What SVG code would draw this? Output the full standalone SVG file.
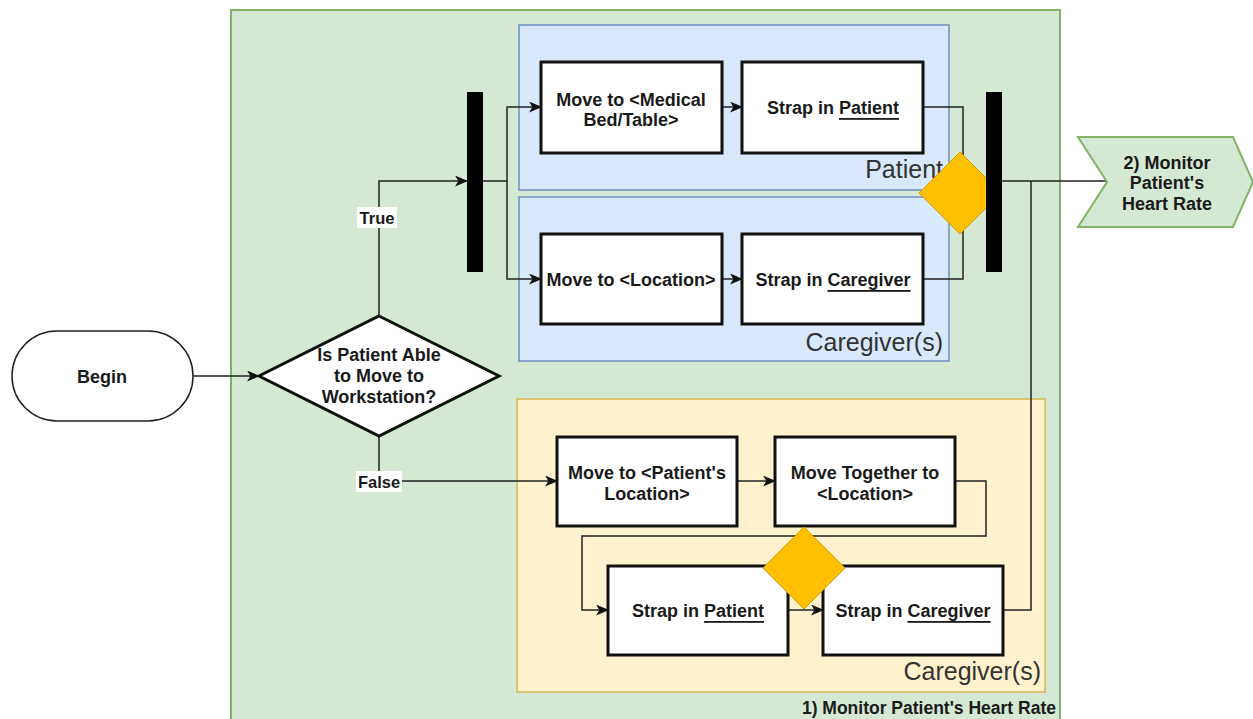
<svg xmlns="http://www.w3.org/2000/svg" width="1253" height="719" viewBox="0 0 1253 719">
<style>
.t{font-family:"Liberation Sans",Arial,sans-serif;font-size:18px;font-weight:bold;fill:#1a1a1a;text-anchor:middle;dominant-baseline:central}
.lane{font-family:"Liberation Sans",Arial,sans-serif;font-size:25px;fill:#333;text-anchor:end}
.box{fill:#fff;stroke:#111;stroke-width:3}
.c{fill:none;stroke:#222;stroke-width:1.5}
.ca{fill:none;stroke:#222;stroke-width:1.5;marker-end:url(#ah)}
.gold{fill:#ffc000;stroke:#d79b00;stroke-width:1}
.bar{fill:#000}
</style>
<defs>
<marker id="ah" viewBox="0 0 12 10" refX="11" refY="5" markerWidth="13" markerHeight="11" markerUnits="userSpaceOnUse" orient="auto">
<path d="M0,0 L12,5 L0,10 L3,5 Z" fill="#111"/>
</marker>
</defs>
<rect width="1253" height="719" fill="#fff"/>
<g id="container">
<rect x="231" y="10" width="829" height="720" fill="#d5e8d4" stroke="#82b366" stroke-width="2"/>
<text x="1056" y="714" class="t" style="text-anchor:end;dominant-baseline:auto;font-size:17.5px">1) Monitor Patient's Heart Rate</text>
</g>
<g id="lane-patient">
<rect x="519" y="25" width="430" height="165" fill="#dae8fc" stroke="#6c8ebf" stroke-width="1.5"/>
<text x="943" y="178" class="lane">Patient</text>
</g>
<g id="lane-caregiver">
<rect x="519" y="197" width="430" height="164" fill="#dae8fc" stroke="#6c8ebf" stroke-width="1.5"/>
<text x="943" y="351" class="lane">Caregiver(s)</text>
</g>
<g id="lane-caregiver2">
<rect x="517" y="399" width="528" height="293" fill="#fff2cc" stroke="#d6b656" stroke-width="1.5"/>
<text x="1041" y="680" class="lane">Caregiver(s)</text>
</g>
<g id="connectors">
<path class="ca" d="M193,376 L259,376"/>
<path class="ca" d="M379,316 L379,181 L467,181"/>
<path class="ca" d="M483,181 L507,181 L507,107 L541,107"/>
<path class="ca" d="M507,181 L507,279 L541,279"/>
<path class="ca" d="M722,107 L742,107"/>
<path class="ca" d="M722,279 L742,279"/>
<path class="c" d="M923,107 L963,107 L963,181 L986,181"/>
<path class="c" d="M923,279 L963,279 L963,181"/>
<path class="c" d="M1002,181 L1107,181"/>
<path class="ca" d="M379,436 L379,481 L557,481"/>
<path class="ca" d="M737,481 L775,481"/>
<path class="ca" d="M955,481 L986,481 L986,536 L582,536 L582,610 L608,610"/>
<path class="ca" d="M788,610 L823,610"/>
<path class="c" d="M1003,610 L1031,610 L1031,181"/>
<rect x="357" y="207" width="40" height="21" fill="#fff"/>
<text x="377" y="218" class="t" style="font-size:16.5px">True</text>
<rect x="356" y="471" width="46" height="21" fill="#fff"/>
<text x="379" y="482" class="t" style="font-size:16.5px">False</text>
</g>
<g id="begin">
<rect x="12" y="331" width="181" height="90" rx="45" fill="#fff" stroke="#222" stroke-width="1.5"/>
<text x="102" y="377" class="t">Begin</text>
</g>
<g id="decision">
<polygon points="379,316 499,376 379,436 259,376" fill="#fff" stroke="#111" stroke-width="3"/>
<text class="t"><tspan x="379" y="355">Is Patient Able</tspan><tspan x="379" y="376">to Move to</tspan><tspan x="379" y="397">Workstation?</tspan></text>
</g>
<g id="move-medical-bed">
<rect class="box" x="541" y="62" width="181" height="91"/>
<text class="t"><tspan x="631" y="100">Move to &lt;Medical</tspan><tspan x="631" y="120">Bed/Table&gt;</tspan></text>
</g>
<g id="strap-patient-1">
<rect class="box" x="742" y="62" width="181" height="91"/>
<text x="833" y="108" class="t">Strap in <tspan text-decoration="underline">Patient</tspan></text>
</g>
<g id="move-location">
<rect class="box" x="541" y="234" width="181" height="90"/>
<text x="631" y="280" class="t">Move to &lt;Location&gt;</text>
</g>
<g id="strap-caregiver-1">
<rect class="box" x="742" y="234" width="181" height="90"/>
<text x="833" y="280" class="t">Strap in <tspan text-decoration="underline">Caregiver</tspan></text>
</g>
<g id="move-patient-location">
<rect class="box" x="557" y="437" width="180" height="89"/>
<text class="t"><tspan x="647" y="473">Move to &lt;Patient's</tspan><tspan x="647" y="494">Location&gt;</tspan></text>
</g>
<g id="move-together">
<rect class="box" x="775" y="437" width="180" height="89"/>
<text class="t"><tspan x="865" y="473">Move Together to</tspan><tspan x="865" y="494">&lt;Location&gt;</tspan></text>
</g>
<g id="strap-patient-2">
<rect class="box" x="608" y="566" width="180" height="89"/>
<text x="698" y="611" class="t">Strap in <tspan text-decoration="underline">Patient</tspan></text>
</g>
<g id="strap-caregiver-2">
<rect class="box" x="823" y="566" width="180" height="89"/>
<text x="913" y="611" class="t">Strap in <tspan text-decoration="underline">Caregiver</tspan></text>
</g>
<g id="marker-top">
<polygon class="gold" points="960,152 1001,193 960,234 919,193"/>
</g>
<g id="marker-bottom">
<polygon class="gold" points="804,527 845,568 804,609 763,568"/>
</g>
<g id="fork">
<rect class="bar" x="467" y="92" width="16" height="180"/>
</g>
<g id="join">
<rect class="bar" x="986" y="92" width="16" height="180"/>
</g>
<g id="next-step">
<polygon points="1078,137 1233,137 1253,182 1233,227 1078,227 1107,182" fill="#d5e8d4" stroke="#82b366" stroke-width="2"/>
<text class="t"><tspan x="1167" y="163">2) Monitor</tspan><tspan x="1167" y="183">Patient's</tspan><tspan x="1167" y="204">Heart Rate</tspan></text>
</g>
</svg>
